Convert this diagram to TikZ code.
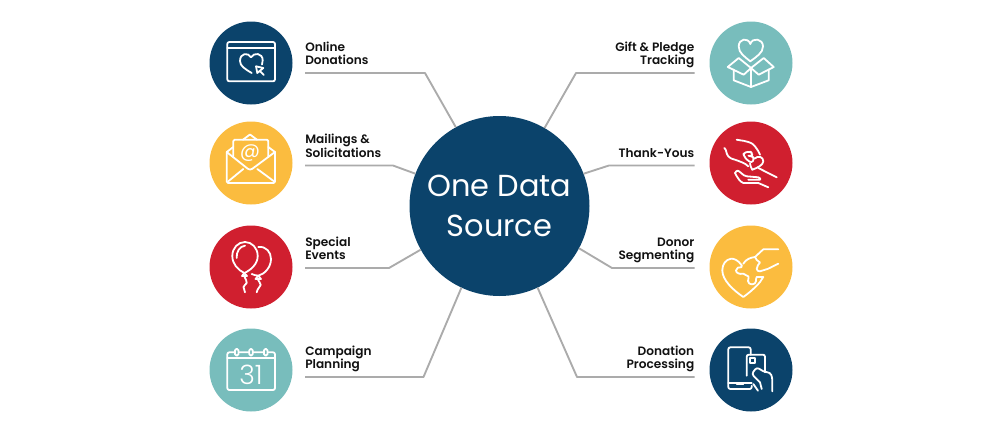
\documentclass[tikz,border=0pt]{standalone}
\usepackage{fontspec}
\setmainfont[UprightFont={* SemiBold},BoldFont={* Bold}]{Poppins}
\newfontfamily\hubfont{Poppins}
\newfontfamily\glyphfont{Poppins Light}
\definecolor{navy}{HTML}{0B436B}
\definecolor{sun}{HTML}{FBBC3F}
\definecolor{berry}{HTML}{D01F2F}
\definecolor{lagoon}{HTML}{78BDBC}
\definecolor{wiregray}{HTML}{ABABAB}
\definecolor{labelink}{HTML}{111111}

\begin{document}
\begin{tikzpicture}[x=0.75pt,y=-0.75pt,
  disc/.style={circle,minimum size=62.25pt,inner sep=0pt,outer sep=0pt},
  glyph/.style={draw=white,line width=1.35pt,line join=round,line cap=round},
  wire/.style={draw=wiregray,line width=1.4pt,line join=round},
  leftlabel/.style={anchor=south west,align=left,inner xsep=0pt,inner ysep=3pt,text=labelink,font=\fontsize{9.1}{10.1}\selectfont,execute at end node=\strut},
  rightlabel/.style={anchor=south east,align=right,inner xsep=0pt,inner ysep=3pt,text=labelink,font=\fontsize{9.1}{10.1}\selectfont,execute at end node=\strut}]
\useasboundingbox (0,0) rectangle (1000,436);
\node[circle,fill=navy,minimum size=135pt,inner sep=0pt,outer sep=0pt,align=center,text=white,font=\hubfont\fontsize{22.8}{30}\selectfont] (hub) at (499.5,206) {One Data\\Source};

\node[leftlabel] (online) at (305,73) {Online\\Donations};
\node[leftlabel] (mailings) at (305,165.5) {Mailings \&\\Solicitations};
\node[leftlabel] (special) at (305,268) {Special\\Events};
\node[leftlabel] (campaign) at (305,377) {Campaign\\Planning};
\node[rightlabel] (gift) at (694.5,73) {Gift \& Pledge\\Tracking};
\node[rightlabel] (thanks) at (694.5,165.5) {Thank-Yous};
\node[rightlabel] (donor) at (694.5,268) {Donor\\Segmenting};
\node[rightlabel] (donation) at (694.5,377) {Donation\\Processing};

\draw[wire] (online.south west) -- (425,73) -- (hub.119);
\draw[wire] (mailings.south west) -- (393,165.5) -- (hub.159);
\draw[wire] (special.south west) -- (389,268) -- (hub.209);
\draw[wire] (campaign.south west) -- (423.5,377) -- (hub.245);
\draw[wire] (gift.south east) -- (576,73) -- (hub.60);
\draw[wire] (thanks.south east) -- (609,165.5) -- (hub.21);
\draw[wire] (donor.south east) -- (612,268) -- (hub.332);
\draw[wire] (donation.south east) -- (577,377) -- (hub.295);

\begin{scope}[shift={(251,63)}]
\node[disc,fill=navy] (onlinedisc) at (0,0) {};
\draw[glyph,rounded corners=1.5pt] (-23.7,-21) rectangle (24,18.3);
\draw[glyph] (-23.7,-15) -- (24,-15);
\draw[glyph] (0.7,10) .. controls (-6,6) and (-11,3) .. (-11,-2) .. controls (-11,-10) and (-3,-11) .. (0,-5.7) .. controls (3,-11) and (11.7,-10) .. (11.7,-2.7) .. controls (11.7,-1) and (11.5,0) .. (11,1.5);
\draw[glyph] (5,3.3) -- (12.3,5) -- (6.3,10) -- cycle;
\draw[glyph] (8.5,7.5) -- (12.8,12);
\end{scope}

\begin{scope}[shift={(251,163)}]
\node[disc,fill=sun] (mailingsdisc) at (0,0) {};
\draw[glyph,rounded corners=1pt] (-24.3,-11) -- (-24.3,20) -- (24,20) -- (24,-11);
\draw[glyph,rounded corners=1pt] (-17.7,-6.5) -- (-17.7,-23.3) -- (17.3,-23.3) -- (17.3,-6.5);
\draw[glyph] (-8,-23.3) -- (-1,-28.5) -- (6,-23.3);
\draw[glyph] (-24.3,-11) -- (-17.7,-16);
\draw[glyph] (24,-11) -- (17.3,-16);
\draw[glyph,rounded corners=2pt] (-24.3,-11) -- (-1,7.5) -- (24,-11);
\draw[glyph] (-22.7,18.3) -- (-7.7,6);
\draw[glyph] (23,18.3) -- (6.3,6);
\node[text=white,inner sep=0pt,font=\hubfont\fontsize{15}{15}\selectfont] (mailat) at (-1,-9.5) {@};
\end{scope}

\begin{scope}[shift={(251,267)}]
\node[disc,fill=berry] (specialdisc) at (0,0) {};
\draw[glyph] (-6.7,6) .. controls (-13,3) and (-18.7,-3) .. (-18.7,-11) .. controls (-18.7,-19) and (-13,-25) .. (-6,-25) .. controls (1,-25) and (6.7,-19) .. (6.7,-11) .. controls (6.7,-3) and (0,3) .. (-6.7,6) -- cycle;
\draw[glyph] (-14.3,-9) .. controls (-15,-15) and (-11,-21) .. (-6,-21.3);
\draw[glyph] (-6.7,6) -- (-9,9) -- (-4,9) -- cycle;
\draw[glyph] (-6.7,9.3) .. controls (-6,12) and (-3.5,14) .. (-4.3,16) .. controls (-5,18) and (-7.5,18) .. (-7.5,20) .. controls (-7.5,22) and (-6.5,23) .. (-6,25.3);
\draw[glyph] (7.3,-20) .. controls (15,-21) and (20,-15) .. (20,-8) .. controls (20,0) and (14,7) .. (7.3,8.7) .. controls (5,8.5) and (3,8) .. (0.7,7);
\draw[glyph] (7.3,8.7) -- (4.5,12) -- (10,12) -- cycle;
\draw[glyph] (6.7,12) .. controls (7,14) and (10,16) .. (9.7,18) .. controls (9.3,20) and (6.5,21) .. (5.7,25.3);
\end{scope}

\begin{scope}[shift={(251,370)}]
\node[disc,fill=lagoon] (campaigndisc) at (0,0) {};
\draw[glyph,rounded corners=1.5pt] (-23.7,-17.7) rectangle (24,20);
\draw[glyph] (-23.7,-11.7) -- (24,-11.7);
\draw[glyph,fill=lagoon,rounded corners=1pt] (-16,-21) rectangle (-12.5,-14.5);
\draw[glyph,fill=lagoon,rounded corners=1pt] (-1.7,-21) rectangle (1.7,-14.5);
\draw[glyph,fill=lagoon,rounded corners=1pt] (13,-21) rectangle (16.5,-14.5);
\node[text=white,inner sep=0pt,font=\glyphfont\fontsize{20}{20}\selectfont] (campaignday) at (0,4.5) {31};
\end{scope}

\begin{scope}[shift={(751,63)}]
\node[disc,fill=lagoon] (giftdisc) at (0,0) {};
\draw[glyph] (-0.7,-1.7) .. controls (-6,-6) and (-12.3,-10) .. (-12.3,-16.5) .. controls (-12.3,-24.5) and (-3,-26) .. (-0.7,-19) .. controls (1.5,-26) and (12,-24.5) .. (12,-16.5) .. controls (12,-10) and (5,-6) .. (-0.7,-1.7) -- cycle;
\draw[glyph] (-12.3,-5) -- (-23.3,4) -- (-7.3,11.7) -- (0,5) -- (7.7,11.7) -- (22.7,4) -- (12.7,-5) -- (0,5) -- cycle;
\draw[glyph] (-17.3,6.5) -- (-17.3,17.3) -- (0,24) -- (17.7,17.3) -- (17.7,6.5);
\draw[glyph] (0,5) -- (0,24);
\end{scope}

\begin{scope}[shift={(751,163)}]
\node[disc,fill=berry] (thanksdisc) at (0,0) {};
\draw[glyph] (-14.3,-23.3) .. controls (-8,-22) and (-6,-22.5) .. (-2.7,-21) .. controls (1,-20) and (3,-18) .. (4,-16.7) .. controls (6,-14) and (8,-11) .. (9,-8.3);
\draw[glyph] (-26.7,-15) .. controls (-24.5,-14) and (-25,-9) .. (-22.7,-6.7) .. controls (-20,-4) and (-18,-4) .. (-16,-3.3) .. controls (-11,-1.5) and (-6,0) .. (-2.7,3.3);
\draw[glyph] (1.3,6.7) .. controls (6,5) and (12.3,2) .. (12.3,-1.7) .. controls (12.3,-6) and (7.5,-8) .. (3.3,-4.3);
\draw[glyph] (1.3,6.7) .. controls (0,4) and (-1,2.5) .. (-1,0.5);
\draw[glyph,rounded corners=1.8pt] (-1,-11.7) -- (-7.7,-10) -- (-7,-7) -- (-4.3,-3.3) -- (0.7,0) -- (3.3,-4.3) -- (1.3,-6.7) -- (-4,-7.5) -- (1.3,-6.7) -- (1,-10) -- cycle;
\draw[glyph] (-16,10) .. controls (-15,8.5) and (-14.5,7.7) .. (-13.3,7.7) .. controls (-11,8) and (-8,13) .. (-4.3,13.3) -- (7.3,14.3) .. controls (9.5,14.5) and (10,16.7) .. (9,16.7) -- (-2.7,16.7);
\draw[glyph] (7.3,5) -- (25.7,14.3);
\draw[glyph] (-16,10) .. controls (-14,14) and (-11,19) .. (-7.7,20) -- (7.3,20) -- (17.3,24.3);
\end{scope}

\begin{scope}[shift={(751,267)}]
\node[disc,fill=sun] (donordisc) at (0,0) {};
\draw[glyph] (-9.3,-1.7) .. controls (-13,-7) and (-17,-8.5) .. (-20,-8.3) .. controls (-25,-7.5) and (-28.7,-3) .. (-28.7,3.3) .. controls (-28.7,13) and (-18,23) .. (-7.7,30) .. controls (-2,26) and (5,20) .. (9,15) -- (12.3,10) -- (5.7,10);
\draw[glyph] (-9.3,-1.7) -- (-9.5,0.2) .. controls (-12,-0.5) and (-15,1) .. (-15,3.5) .. controls (-15,6) and (-11.5,7.5) .. (-7.7,6.7) -- (-2.5,9.5) .. controls (-2,11) and (-3,12) .. (-3,14) .. controls (-3,18.5) and (5,18.5) .. (5,14) .. controls (5,12.5) and (5,11) .. (5.7,10);
\draw[glyph] (27.3,-17.7) -- (12.3,-17.7) -- (4,-10) .. controls (0,-9.5) and (-5,-8) .. (-7.7,-3.3);
\draw[glyph] (4,-10) .. controls (5,-8) and (6,-6) .. (9,-4.5) .. controls (8,-3) and (5.7,-1) .. (5.7,1.7) .. controls (5.7,3.5) and (7.5,4.7) .. (9,4.3) -- (17.3,1.7) .. controls (21,0) and (24,-2) .. (27.3,-3.3);
\end{scope}

\begin{scope}[shift={(751,370)}]
\node[disc,fill=navy] (donationdisc) at (0,0) {};
\draw[glyph,rounded corners=1.5pt] (-0.3,-15.3) -- (-0.3,-22.7) -- (-22.7,-22.7) -- (-22.7,19) -- (0.7,19) -- (0.7,15.7);
\draw[glyph] (-22.7,13.3) -- (0.7,13.3);
\draw[glyph] (-14.3,14) -- (-7.7,14);
\draw[glyph,rounded corners=1.5pt] (-4.3,5.7) -- (-4.3,-15.3) -- (14,-15.3) -- (14,2.3);
\draw[glyph] (-1,-12) rectangle (4,-7);
\draw[glyph,rounded corners=2pt] (9,12.3) -- (0.7,4) -- (5.7,-2.7) -- (14,2.3) -- (19,2.3) -- (21.3,7.3) -- (21.3,21.3);
\draw[glyph] (9,12.3) -- (10.7,19);
\draw[glyph] (2.3,14) -- (7,20.7);
\end{scope}
\end{tikzpicture}
\end{document}
